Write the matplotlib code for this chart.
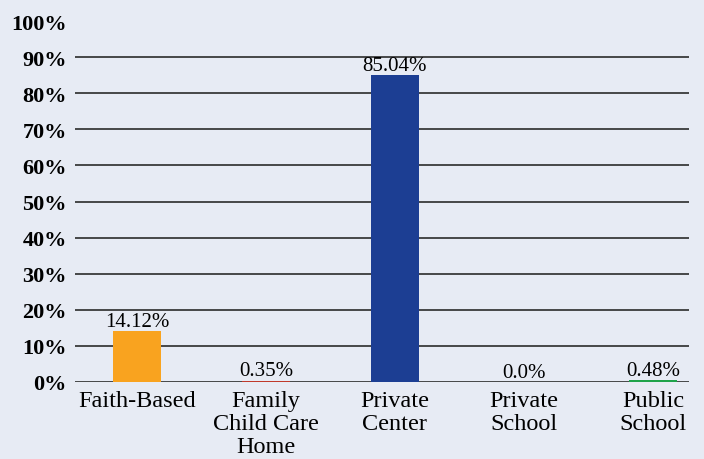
import matplotlib
matplotlib.use("Agg")
import matplotlib.pyplot as plt
import numpy as np

# dados
categories = ["Faith-Based", "Family\nChild Care\nHome", "Private\nCenter", "Private\nSchool", "Public\nSchool"]
values = [14.12, 0.35, 85.04, 0.0, 0.48]
value_labels = ["14.12%", "0.35%", "85.04%", "0.0%", "0.48%"]
colors = ["#F9A31F", "#C0392B", "#1C3E93", "#1C3E93", "#1FA34A"]
yticks = [0, 10, 20, 30, 40, 50, 60, 70, 80, 90, 100]

bg = "#E7EBF4"
plt.rcParams['font.family'] = ['Liberation Serif', 'DejaVu Serif']

fig = plt.figure(figsize=(7.04, 4.6), dpi=100, facecolor=bg)
ax = fig.add_axes([75/704, 77/460, 614/704, 361/460])
ax.set_facecolor(bg)

x = np.arange(len(categories))
ax.bar(x, values, width=0.37, color=colors, zorder=3)

for xi, v, lab in zip(x, values, value_labels):
    ax.text(xi, v + 0.1, lab, ha='center', va='bottom', fontsize=15, zorder=4)

# linhas de grade, sem a de 100%
for t in yticks[:-1]:
    ax.axhline(t, color='#3a3a3a', linewidth=1.3, zorder=1)

ax.set_xlim(-0.48, 4.28)
ax.set_ylim(0, 100)
ax.set_yticks(yticks)
ax.set_yticklabels([f"{t}%" for t in yticks], fontsize=16, fontweight='bold')
ax.set_xticks(x)
ax.set_xticklabels(categories, fontsize=17.5, linespacing=1.12)
ax.tick_params(axis='x', length=0, pad=6)
ax.tick_params(axis='y', length=0, pad=6)
for s in ax.spines.values():
    s.set_visible(False)

fig.savefig("out.png", dpi=100, facecolor=bg)
